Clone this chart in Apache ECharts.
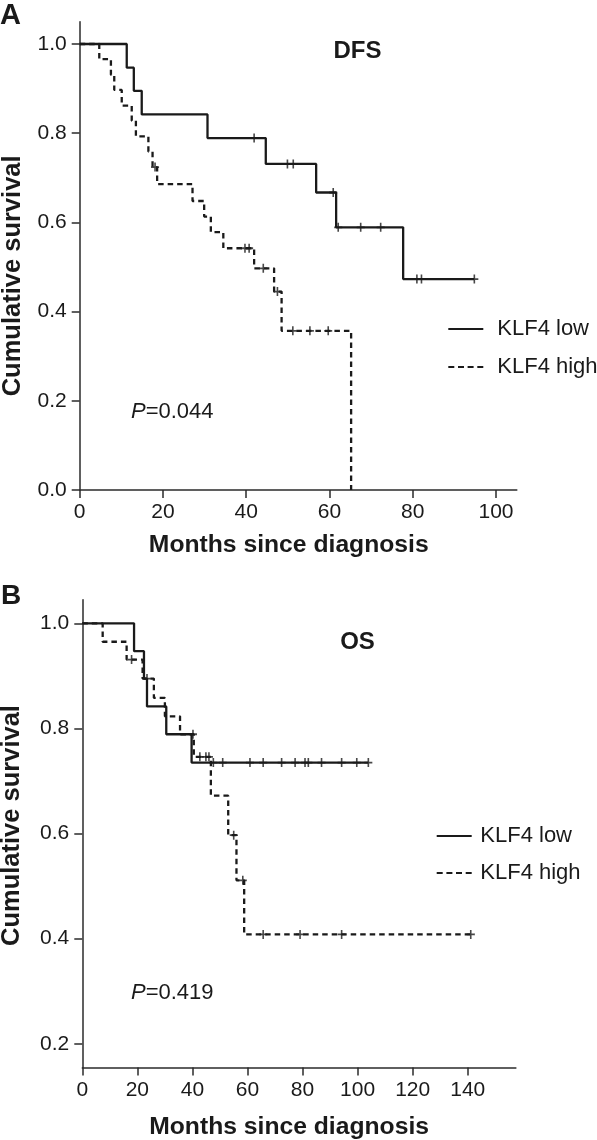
<!DOCTYPE html>
<html>
<head>
<meta charset="utf-8">
<script src="https://cdn.jsdelivr.net/npm/echarts@6/dist/echarts.min.js"></script>
<style>
html,body{margin:0;padding:0;background:#fff;}
#chart{width:597px;height:1140px;}
</style>
</head>
<body>
<div id="chart"></div>
<script>
// ---------- Data ----------
// Panel A: DFS
const dfsLowTimes = [0, 11.3, 13.0, 14.9, 30.7, 44.7, 56.8, 61.6, 77.7, 94.8];
const dfsLowSurv  = [1.0, 0.947, 0.895, 0.842, 0.789, 0.731, 0.667, 0.589, 0.473, 0.473];
const dfsLowCensorTimes = [41.9, 49.9, 51.3, 60.9, 62.1, 67.5, 72.3, 81.0, 82.1, 94.8];
const dfsLowCensorSurv  = [0.789, 0.731, 0.731, 0.667, 0.589, 0.589, 0.589, 0.473, 0.473, 0.473];

const dfsHighTimes = [0, 4.7, 7.5, 8.3, 10.1, 12.5, 13.5, 16.5, 17.5, 18.6, 27.1, 29.9, 31.5, 34.5, 41.9, 46.7, 48.5, 65.2];
const dfsHighSurv  = [1.0, 0.966, 0.931, 0.897, 0.862, 0.828, 0.793, 0.759, 0.724, 0.686, 0.648, 0.613, 0.578, 0.542, 0.497, 0.445, 0.357, 0.0];
const dfsHighCensorTimes = [18.1, 39.7, 40.7, 44.1, 47.5, 51.2, 55.3, 59.7];
const dfsHighCensorSurv  = [0.724, 0.542, 0.542, 0.497, 0.445, 0.357, 0.357, 0.357];

// Panel B: OS
const osLowTimes = [0, 18.8, 22.4, 23.5, 30.5, 39.7, 103.9];
const osLowSurv  = [1.0, 0.947, 0.895, 0.842, 0.789, 0.735, 0.735];
const osLowCensorTimes = [47.6, 51.0, 60.9, 65.7, 72.4, 77.3, 80.9, 82.1, 86.9, 94.2, 99.7, 103.9];
const osLowCensorSurv  = [0.735, 0.735, 0.735, 0.735, 0.735, 0.735, 0.735, 0.735, 0.735, 0.735, 0.735, 0.735];

const osHighTimes = [0, 7.4, 16.1, 21.9, 26.0, 30.0, 35.5, 40.5, 46.7, 53.0, 56.0, 58.8, 142.4];
const osHighSurv  = [1.0, 0.965, 0.931, 0.895, 0.858, 0.823, 0.789, 0.746, 0.672, 0.597, 0.511, 0.408, 0.408];
const osHighCensorTimes = [17.9, 23.5, 40.2, 42.7, 44.9, 46.0, 55.0, 58.3, 65.7, 79.1, 94.2, 141.1];
const osHighCensorSurv  = [0.931, 0.895, 0.789, 0.746, 0.746, 0.746, 0.597, 0.511, 0.408, 0.408, 0.408, 0.408];

// Tick labels
const xTicksA = [0, 20, 40, 60, 80, 100];
const yTicksA = [0.0, 0.2, 0.4, 0.6, 0.8, 1.0];
const xTicksB = [0, 20, 40, 60, 80, 100, 120, 140];
const yTicksB = [0.2, 0.4, 0.6, 0.8, 1.0];

const seriesNames = ['KLF4 low', 'KLF4 high'];

// ---------- Styling ----------
const FONT = 'Liberation Sans, Arial, Helvetica, sans-serif';
const INK = '#1a1a1a';
const AXIS = '#2b2b2b';
const CENSOR = 'path://M4,0H6V4H10V6H6V10H4V6H0V4H4Z';
const ICON_SOLID = 'path://M0,0H35V2H0Z';
const ICON_DASH = 'path://M0,0H6V2H0Z M9.7,0H15.7V2H9.7Z M19.3,0H25.3V2H19.3Z M29,0H35V2H29Z';

function zip(a, b) { return a.map((v, i) => [v, b[i]]); }

function xAxisDef(gridIndex, max, ticks, nameGap, padRight) {
  return {
    type: 'value', gridIndex: gridIndex, min: 0, max: max,
    name: 'Months since diagnosis', nameLocation: 'middle', nameGap: nameGap,
    nameTextStyle: { fontFamily: FONT, fontSize: 24.7, fontWeight: 'bold', color: INK, padding: [0, padRight, 0, 0] },
    axisLine: { show: true, onZero: false, lineStyle: { color: AXIS, width: 1.5 } },
    axisTick: { show: true, length: 8, lineStyle: { color: AXIS, width: 1.5 }, customValues: ticks },
    axisLabel: { fontFamily: FONT, fontSize: 21, color: INK, margin: 12, customValues: ticks },
    splitLine: { show: false }
  };
}
function yAxisDef(gridIndex, min, max, ticks, nameGap, pad) {
  return {
    type: 'value', gridIndex: gridIndex, min: min, max: max,
    name: 'Cumulative survival', nameLocation: 'middle', nameGap: nameGap, nameRotate: 90,
    nameTextStyle: { fontFamily: FONT, fontSize: 25.5, fontWeight: 'bold', color: INK, padding: pad },
    axisLine: { show: true, onZero: false, lineStyle: { color: AXIS, width: 1.5 } },
    axisTick: { show: true, length: 8, lineStyle: { color: AXIS, width: 1.5 }, customValues: ticks },
    axisLabel: { fontFamily: FONT, fontSize: 21, color: INK, margin: 13, customValues: ticks,
      formatter: v => v.toFixed(1) },
    splitLine: { show: false }
  };
}
function kmLine(name, idx, times, surv, dashed) {
  return {
    name: name, type: 'line', xAxisIndex: idx, yAxisIndex: idx,
    step: 'end', symbol: 'none', data: zip(times, surv), z: 3,
    lineStyle: { color: INK, width: 2.3, type: dashed ? [5.5, 4] : 'solid' },
    itemStyle: { color: INK },
    silent: true
  };
}
function censorMarks(name, idx, times, surv) {
  return {
    name: name, type: 'scatter', xAxisIndex: idx, yAxisIndex: idx,
    symbol: CENSOR, symbolSize: [8, 9], data: zip(times, surv), z: 4,
    itemStyle: { color: INK }, silent: true
  };
}
function legendDef(left, top, gapText, gap) {
  return {
    data: [{ name: seriesNames[0], icon: ICON_SOLID }, { name: seriesNames[1], icon: ICON_DASH }],
    orient: 'vertical', left: left, top: top, padding: 0,
    itemWidth: 35, itemHeight: 2, itemGap: gap, selectedMode: false,
    itemStyle: { color: INK, borderWidth: 0 },
    lineStyle: { width: 0 },
    textStyle: { fontFamily: FONT, fontSize: 22, color: INK, padding: [0, 0, 0, gapText] }
  };
}

const chart = echarts.init(document.getElementById('chart'), null, { renderer: 'canvas' });
const option = {
  animation: false,
  backgroundColor: '#ffffff',
  grid: [
    { left: 79.7, top: 21.7, width: 437.1, height: 468.3, outerBoundsMode: 'none', containLabel: false },
    { left: 82.3, top: 599.7, width: 433.6, height: 467.7, outerBoundsMode: 'none', containLabel: false }
  ],
  xAxis: [
    xAxisDef(0, 105, xTicksA, 43, 19),
    xAxisDef(1, 157.5, xTicksB, 47, 20)
  ],
  yAxis: [
    yAxisDef(0, 0, 1.05, yTicksA, 54, [0, 40, 0, 0]),
    yAxisDef(1, 0.155, 1.045, yTicksB, 57, [0, 0, 0, 16])
  ],
  legend: [
    legendDef(448.3, 318, 9, 16),
    legendDef(436.7, 825, 3.6, 15)
  ],
  graphic: [
    { type: 'text', left: 0, top: 1, style: { text: 'A', fontFamily: FONT, fontSize: 29, fontWeight: 'bold', fill: INK } },
    { type: 'text', left: 1, top: 582, style: { text: 'B', fontFamily: FONT, fontSize: 28, fontWeight: 'bold', fill: INK } },
    { type: 'text', x: 357.5, y: 51, style: { text: 'DFS', fontFamily: FONT, fontSize: 24, fontWeight: 'bold', fill: INK, align: 'center', verticalAlign: 'middle' } },
    { type: 'text', x: 357.5, y: 642, style: { text: 'OS', fontFamily: FONT, fontSize: 24, fontWeight: 'bold', fill: INK, align: 'center', verticalAlign: 'middle' } },
    { type: 'text', x: 131, y: 412, style: { text: '{i|P}=0.044', fontFamily: FONT, fontSize: 22, fill: INK, verticalAlign: 'middle',
      rich: { i: { fontStyle: 'italic', fontFamily: FONT, fontSize: 22, fill: INK } } } },
    { type: 'text', x: 131, y: 993, style: { text: '{i|P}=0.419', fontFamily: FONT, fontSize: 22, fill: INK, verticalAlign: 'middle',
      rich: { i: { fontStyle: 'italic', fontFamily: FONT, fontSize: 22, fill: INK } } } }
  ],
  series: [
    kmLine('KLF4 low', 0, dfsLowTimes, dfsLowSurv, false),
    kmLine('KLF4 high', 0, dfsHighTimes, dfsHighSurv, true),
    censorMarks('DFS low censored', 0, dfsLowCensorTimes, dfsLowCensorSurv),
    censorMarks('DFS high censored', 0, dfsHighCensorTimes, dfsHighCensorSurv),
    kmLine('KLF4 low', 1, osLowTimes, osLowSurv, false),
    kmLine('KLF4 high', 1, osHighTimes, osHighSurv, true),
    censorMarks('OS low censored', 1, osLowCensorTimes, osLowCensorSurv),
    censorMarks('OS high censored', 1, osHighCensorTimes, osHighCensorSurv)
  ]
};
chart.setOption(option);
</script>
</body>
</html>
